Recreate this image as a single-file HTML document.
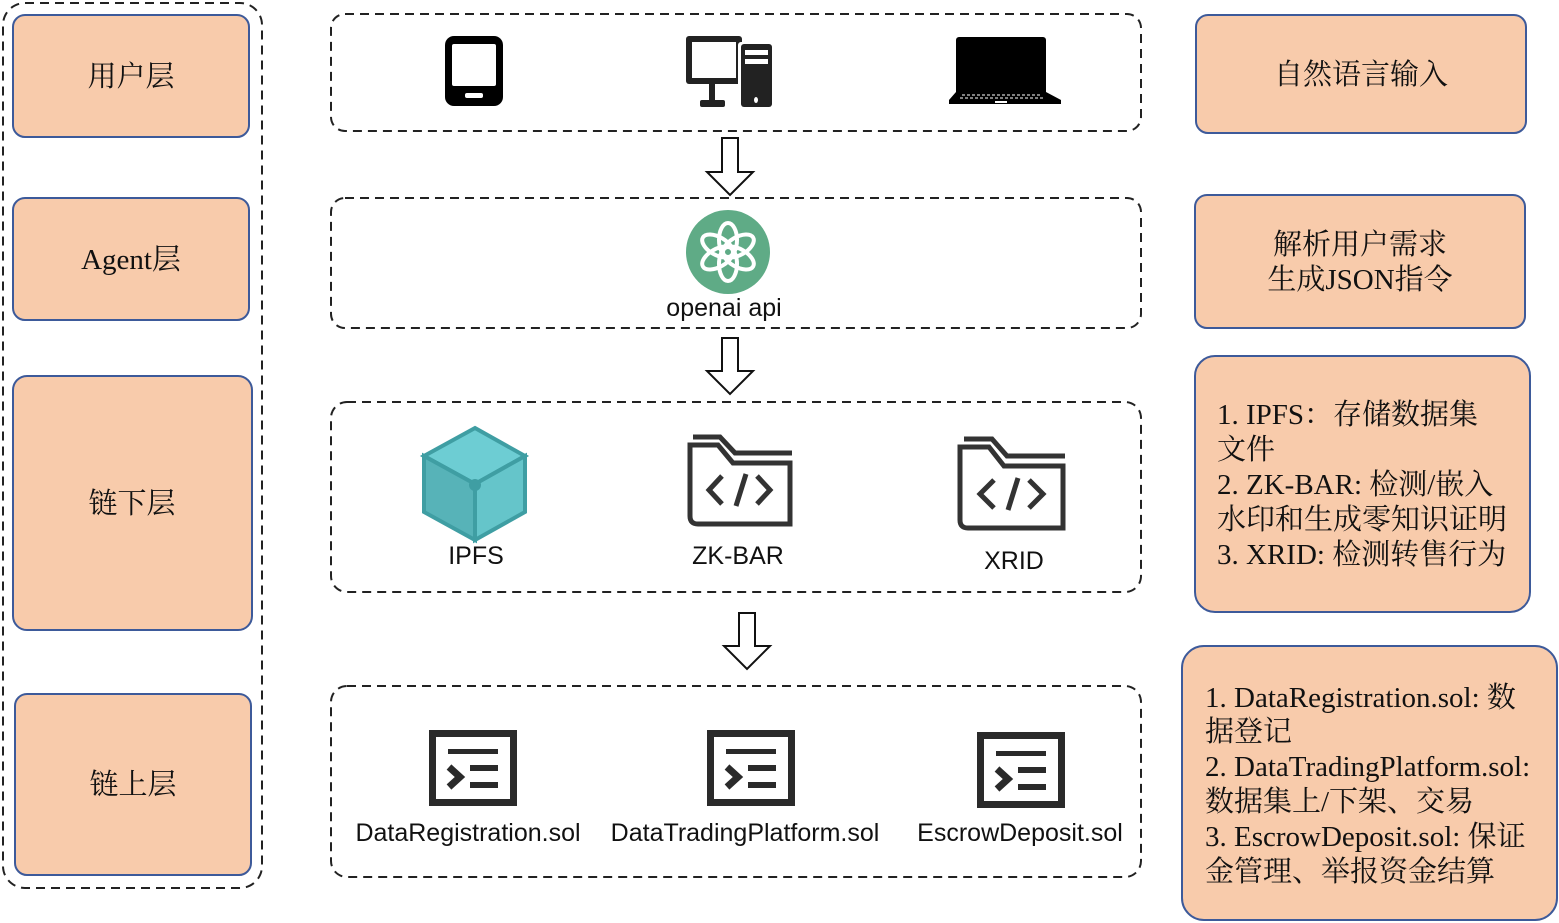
<!DOCTYPE html>
<html><head><meta charset="utf-8"><style>
html,body{margin:0;padding:0;background:#fff}
svg{display:block}
.lbl{font-family:"Liberation Serif","Noto Serif CJK SC",serif;font-size:29px;fill:#111}
.sans{font-family:"Liberation Sans","Noto Sans CJK SC",sans-serif;font-size:25px;fill:#111}
.box{fill:#f8cbab;stroke:#3d5a9a;stroke-width:2}
.dash{fill:none;stroke:#222;stroke-width:2;stroke-dasharray:9 6}
.arrow{fill:#fff;stroke:#111;stroke-width:2}
</style></head><body>
<svg width="1559" height="923" viewBox="0 0 1559 923">
<rect class="dash" x="3" y="3" width="259" height="885" rx="22"/>
<g><rect class="box" x="13" y="15" width="236" height="122" rx="12"/><text class="lbl" x="131" y="86" text-anchor="middle">用户层</text></g>
<g><rect class="box" x="13" y="198" width="236" height="122" rx="12"/><text class="lbl" x="131" y="269" text-anchor="middle">Agent层</text></g>
<g><rect class="box" x="13" y="376" width="239" height="254" rx="14"/><text class="lbl" x="132" y="513" text-anchor="middle">链下层</text></g>
<g><rect class="box" x="15" y="694" width="236" height="181" rx="12"/><text class="lbl" x="133" y="794" text-anchor="middle">链上层</text></g>

<rect class="dash" x="331" y="14" width="810" height="117" rx="14"/>
<rect class="dash" x="331" y="198" width="810" height="130" rx="14"/>
<rect class="dash" x="331" y="402" width="810" height="190" rx="16"/>
<rect class="dash" x="331" y="686" width="810" height="191" rx="16"/>

<polygon class="arrow" points="722,138 738,138 738,172 753,172 730,195 707,172 722,172"/>
<polygon class="arrow" points="722,338 738,338 738,371 753,371 730,394 707,371 722,371"/>
<polygon class="arrow" points="739,613 755,613 755,646 770,646 747,669 724,646 739,646"/>

<g>
<rect x="445" y="36" width="58" height="70" rx="9" fill="#000"/>
<rect x="452" y="44" width="44" height="42" rx="2" fill="#fff"/>
<rect x="465" y="93" width="18" height="5" rx="2" fill="#fff"/>
</g>
<g>
<rect x="686" y="36" width="56" height="48" rx="3" fill="#222"/>
<rect x="692" y="42" width="44" height="36" fill="#fff"/>
<rect x="709" y="84" width="6" height="18" fill="#222"/>
<rect x="700" y="100" width="25" height="7" rx="2" fill="#222"/>
<rect x="738" y="42" width="35" height="65" rx="3" fill="#fff"/>
<rect x="741" y="44" width="31" height="63" rx="3" fill="#222"/>
<rect x="745" y="50" width="23" height="5" fill="#fff"/>
<rect x="745" y="59" width="23" height="5" fill="#fff"/>
<ellipse cx="756" cy="100" rx="2" ry="3" fill="#fff"/>
</g>
<g>
<rect x="956" y="37" width="90" height="58" rx="3" fill="#000"/>
<polygon points="956,92 1046,92 1061,100 1061,104 949,104 949,100" fill="#000"/>
<line x1="962" y1="95" x2="1040" y2="95" stroke="#fff" stroke-width="1" stroke-dasharray="3 2"/>
<line x1="960" y1="98" x2="1044" y2="98" stroke="#fff" stroke-width="1" stroke-dasharray="3 2"/>
<rect x="995" y="101" width="12" height="2" fill="#fff"/>
</g>

<g>
<circle cx="728" cy="252" r="42" fill="#5fab86"/>
<g fill="none" stroke="#fff" stroke-width="4">
<ellipse cx="728" cy="240" rx="9" ry="17"/>
<ellipse cx="728" cy="240" rx="9" ry="17" transform="rotate(60 728 252)"/>
<ellipse cx="728" cy="240" rx="9" ry="17" transform="rotate(120 728 252)"/>
<ellipse cx="728" cy="240" rx="9" ry="17" transform="rotate(180 728 252)"/>
<ellipse cx="728" cy="240" rx="9" ry="17" transform="rotate(240 728 252)"/>
<ellipse cx="728" cy="240" rx="9" ry="17" transform="rotate(300 728 252)"/>
</g>
</g>
<text class="sans" x="724" y="316" text-anchor="middle">openai api</text>

<g>
<polygon points="475,428 525,456 475,484 424,456" fill="#6dcdd3" stroke="#3f9ea3" stroke-width="4"/>
<polygon points="424,456 475,484 475,540 424,512" fill="#57b3b8" stroke="#3f9ea3" stroke-width="4"/>
<polygon points="525,456 475,484 475,540 525,512" fill="#65c5ca" stroke="#3f9ea3" stroke-width="4"/>
<circle cx="475" cy="485" r="6" fill="#3f9ea3"/>
</g>
<text class="sans" x="476" y="564" text-anchor="middle">IPFS</text>

<g fill="none" stroke="#333" stroke-width="5">
<polyline points="693,437 720,437 735,453 792,453"/>
<path d="M790,524 L698,524 Q690,524 690,516 L690,445 L718,445 L733,463 L790,463 Z"/>
<polyline points="722,476 709,490 722,504"/><line x1="746" y1="474" x2="736" y2="506"/><polyline points="757,476 770,490 757,504"/>
</g>
<text class="sans" x="738" y="564" text-anchor="middle">ZK-BAR</text>

<g fill="none" stroke="#333" stroke-width="5">
<polyline points="964,439 992,439 1007,456 1065,456"/>
<path d="M1063,528 L968,528 Q960,528 960,520 L960,447 L989,447 L1004,466 L1063,466 Z"/>
<polyline points="994,480 980,494 994,508"/><line x1="1018" y1="478" x2="1008" y2="510"/><polyline points="1029,480 1043,494 1029,508"/>
</g>
<text class="sans" x="1014" y="569" text-anchor="middle">XRID</text>

<g transform="translate(429,730)">
<rect x="3.5" y="3.5" width="81" height="69" fill="none" stroke="#2a2a2a" stroke-width="7"/>
<rect x="19" y="19" width="50" height="5" fill="#2a2a2a"/><rect x="41" y="35" width="28" height="6" fill="#2a2a2a"/><rect x="41" y="52" width="28" height="6" fill="#2a2a2a"/>
<polyline points="20,37 31,47 20,57" fill="none" stroke="#2a2a2a" stroke-width="7"/>
</g>
<g transform="translate(707,730)">
<rect x="3.5" y="3.5" width="81" height="69" fill="none" stroke="#2a2a2a" stroke-width="7"/>
<rect x="19" y="19" width="50" height="5" fill="#2a2a2a"/><rect x="41" y="35" width="28" height="6" fill="#2a2a2a"/><rect x="41" y="52" width="28" height="6" fill="#2a2a2a"/>
<polyline points="20,37 31,47 20,57" fill="none" stroke="#2a2a2a" stroke-width="7"/>
</g>
<g transform="translate(977,732)">
<rect x="3.5" y="3.5" width="81" height="69" fill="none" stroke="#2a2a2a" stroke-width="7"/>
<rect x="19" y="19" width="50" height="5" fill="#2a2a2a"/><rect x="41" y="35" width="28" height="6" fill="#2a2a2a"/><rect x="41" y="52" width="28" height="6" fill="#2a2a2a"/>
<polyline points="20,37 31,47 20,57" fill="none" stroke="#2a2a2a" stroke-width="7"/>
</g>
<text class="sans" x="468" y="841" text-anchor="middle">DataRegistration.sol</text>
<text class="sans" x="745" y="841" text-anchor="middle">DataTradingPlatform.sol</text>
<text class="sans" x="1020" y="841" text-anchor="middle">EscrowDeposit.sol</text>

<g><rect class="box" x="1196" y="15" width="330" height="118" rx="12"/><text class="lbl" x="1361" y="84" text-anchor="middle">自然语言输入</text></g>
<g><rect class="box" x="1195" y="195" width="330" height="133" rx="12"/>
<text class="lbl" x="1360" y="254" text-anchor="middle">解析用户需求</text><text class="lbl" x="1360" y="289" text-anchor="middle">生成JSON指令</text></g>
<g><rect class="box" x="1195" y="356" width="335" height="256" rx="20"/>
<text class="lbl" x="1217" y="424">1. IPFS：存储数据集</text>
<text class="lbl" x="1217" y="459">文件</text>
<text class="lbl" x="1217" y="494">2. ZK-BAR: 检测/嵌入</text>
<text class="lbl" x="1217" y="529">水印和生成零知识证明</text>
<text class="lbl" x="1217" y="564">3. XRID: 检测转售行为</text></g>
<g><rect class="box" x="1182" y="646" width="375" height="274" rx="22"/>
<text class="lbl" x="1205" y="707">1. DataRegistration.sol: 数</text>
<text class="lbl" x="1205" y="741">据登记</text>
<text class="lbl" x="1205" y="776">2. DataTradingPlatform.sol:</text>
<text class="lbl" x="1205" y="811">数据集上/下架、交易</text>
<text class="lbl" x="1205" y="846">3. EscrowDeposit.sol: 保证</text>
<text class="lbl" x="1205" y="881">金管理、举报资金结算</text></g>
</svg>
</body></html>
